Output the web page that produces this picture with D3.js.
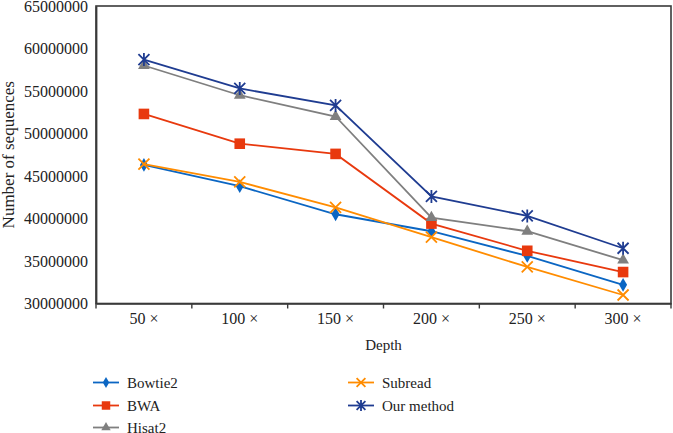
<!DOCTYPE html>
<html><head><meta charset="utf-8">
<script src="https://cdn.jsdelivr.net/npm/d3@7"></script>
<style>body{margin:0;background:#fff}svg{display:block}</style>
</head><body><svg id="c" width="673" height="433"></svg>
<script>
const categories = ["50 ×","100 ×","150 ×","200 ×","250 ×","300 ×"];
const bowtie2 = [46300000,43800000,40500000,38500000,35600000,32200000];
const bwa = [52300000,48800000,47600000,39400000,36200000,33700000];
const hisat2 = [58000000,54500000,52000000,40100000,38500000,35100000];
const subread = [46400000,44300000,41300000,37800000,34300000,31000000];
const ourMethod = [58700000,55300000,53300000,42600000,40300000,36500000];
const yTicks = [30000000,35000000,40000000,45000000,50000000,55000000,60000000,65000000];
const seriesNames = ["Bowtie2","BWA","Hisat2","Subread","Our method"];

const FONT = "Liberation Serif";
const series = [
  {values:bowtie2, color:"#0b66c3", sym:"diamond"},
  {values:bwa, color:"#e8390e", sym:"square"},
  {values:hisat2, color:"#7f7f7f", sym:"triangle"},
  {values:subread, color:"#ff8c00", sym:"x"},
  {values:ourMethod, color:"#1f3c91", sym:"star"}
];

const svg = d3.select("#c");
const L=96, R=671, T=6, B=303.5;
const x = d3.scaleBand().domain(categories).range([L,R]);
const y = d3.scaleLinear().domain([30000000,65000000]).range([B,T]);

svg.append("rect").attr("x",L).attr("y",T).attr("width",R-L).attr("height",B-T)
  .attr("fill","none").attr("stroke","#3a3a3a").attr("stroke-width",1.6);

const xa = svg.append("g").attr("transform",`translate(0,${B})`).attr("font-family",FONT)
  .call(d3.axisBottom(x).tickSize(0).tickPadding(9));
xa.select(".domain").attr("stroke","#3a3a3a").attr("stroke-width",1.6);
xa.selectAll("text").attr("font-size",16).attr("fill","#222").attr("font-family",FONT);
const bounds = categories.map(c=>x(c)).concat([R]);
svg.append("g").selectAll("line").data(bounds).join("line")
  .attr("x1",d=>d).attr("x2",d=>d).attr("y1",B).attr("y2",B+5)
  .attr("stroke","#3a3a3a").attr("stroke-width",1.4);

const ya = svg.append("g").attr("transform",`translate(${L},0)`).attr("font-family",FONT)
  .call(d3.axisLeft(y).tickValues(yTicks).tickFormat(d3.format("d")).tickSize(0).tickPadding(8));
ya.select(".domain").attr("stroke","#3a3a3a").attr("stroke-width",1.8);
ya.selectAll("text").attr("font-size",16).attr("fill","#222").attr("font-family",FONT);

svg.append("text").attr("x",(L+R)/2).attr("y",350).attr("text-anchor","middle")
  .attr("font-size",15).attr("font-family",FONT).attr("fill","#222").text("Depth");
svg.append("text").attr("transform",`translate(14,${(T+B)/2}) rotate(-90)`).attr("text-anchor","middle")
  .attr("font-size",17).attr("font-family",FONT).attr("fill","#222").text("Number of sequences");

function drawSym(g, s, cx, cy, k){
  k = k||1;
  if(s.sym==="diamond"){
    g.append("path").attr("d",d3.symbol(d3.symbolDiamond, 55*k*k)()).attr("transform",`translate(${cx},${cy})`).attr("fill",s.color);
  } else if(s.sym==="square"){
    const h=5.3*k;
    g.append("rect").attr("x",cx-h).attr("y",cy-h).attr("width",2*h).attr("height",2*h).attr("fill",s.color);
  } else if(s.sym==="triangle"){
    g.append("path").attr("d",d3.symbol(d3.symbolTriangle, 60*k*k)()).attr("transform",`translate(${cx},${cy})`).attr("fill",s.color);
  } else if(s.sym==="x"){
    const r=5.5*k;
    g.append("path").attr("d",`M${cx-r},${cy-r}L${cx+r},${cy+r}M${cx-r},${cy+r}L${cx+r},${cy-r}`).attr("stroke",s.color).attr("stroke-width",1.8).attr("fill","none");
  } else if(s.sym==="star"){
    const r=5.5*k;
    g.append("path").attr("d",`M${cx-r},${cy-r}L${cx+r},${cy+r}M${cx-r},${cy+r}L${cx+r},${cy-r}M${cx},${cy-r-1}L${cx},${cy+r+1}`).attr("stroke",s.color).attr("stroke-width",1.8).attr("fill","none");
  }
}

const line = d3.line().x((d,i)=>x(categories[i])+x.bandwidth()/2).y(d=>y(d));
series.forEach(s=>{
  const g = svg.append("g");
  g.append("path").datum(s.values).attr("d",line).attr("fill","none").attr("stroke",s.color).attr("stroke-width",1.8);
  s.values.forEach((v,i)=>drawSym(g,s,x(categories[i])+x.bandwidth()/2,y(v)));
});

const legPos = [[93,382.5],[93,405.5],[93,427.5],[348,382.5],[348,405.5]];
series.forEach((s,i)=>{
  const [lx,ly] = legPos[i];
  const g = svg.append("g");
  g.append("line").attr("x1",lx).attr("x2",lx+26).attr("y1",ly).attr("y2",ly).attr("stroke",s.color).attr("stroke-width",1.8);
  drawSym(g,s,lx+13,ly,0.8);
  g.append("text").attr("x",lx+34).attr("y",ly+5).attr("font-size",15).attr("font-family",FONT).attr("fill","#222").text(seriesNames[i]);
});
</script></body></html>
